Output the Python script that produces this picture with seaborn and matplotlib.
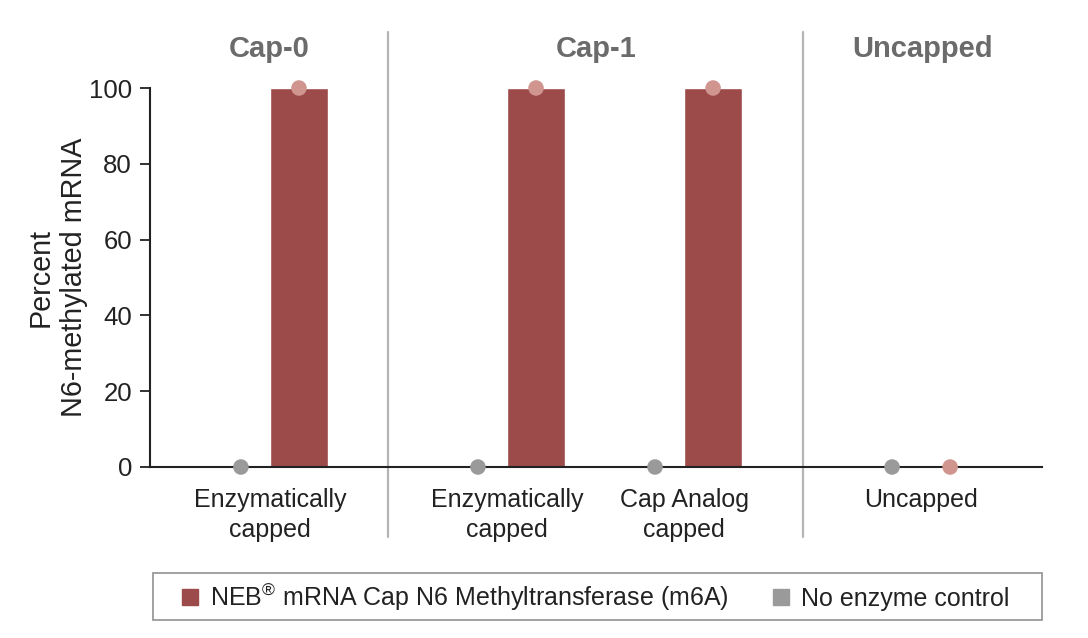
import matplotlib
matplotlib.use('Agg')
import matplotlib.pyplot as plt
from matplotlib.lines import Line2D
from matplotlib.patches import Rectangle
import pandas as pd
import seaborn as sns

# 数据
conditions = ['Enzymatically\ncapped', 'Enzymatically\ncapped', 'Cap Analog\ncapped', 'Uncapped']
groups = ['Cap-0', 'Cap-1', 'Uncapped']
enzyme = [100, 100, 100, 0]
control = [0, 0, 0, 0]
enzyme_name = 'NEB$^{®}$ mRNA Cap N6 Methyltransferase (m6A)'
control_name = 'No enzyme control'

# 布局（类别中心位置，组分隔线，组标题位置）
pos = [0.0, 1.0, 1.747, 2.747]
seps = [0.498, 2.249]
group_x = [-0.004, 1.374, 2.753]

red, pink, grey = '#9c4a4a', '#d0958f', '#9a9a9a'

sns.set_style('white')
plt.rcParams['font.family'] = ['Liberation Sans', 'DejaVu Sans']
plt.rcParams['mathtext.fontset'] = 'custom'
plt.rcParams['mathtext.rm'] = 'Liberation Sans'

df = pd.DataFrame({
    'pos': pos * 2,
    'treatment': ['control'] * 4 + ['enzyme'] * 4,
    'percent': control + enzyme,
})

fig = plt.figure(figsize=(10.88, 6.38), dpi=100)
ax = fig.add_axes([150 / 1088, 1 - 467 / 638, 892 / 1088, 379 / 638])

sns.barplot(data=df, x='pos', y='percent', hue='treatment', hue_order=['control', 'enzyme'],
            palette={'control': grey, 'enzyme': red}, native_scale=True, width=0.656,
            saturation=1, dodge=True, legend=False, ax=ax, zorder=2)

off = 0.1225
dots = pd.DataFrame({
    'x': [p - off for p in pos] + [p + off for p in pos],
    'percent': control + enzyme,
    'treatment': ['control'] * 4 + ['enzyme'] * 4,
})
sns.scatterplot(data=dots, x='x', y='percent', hue='treatment',
                palette={'control': grey, 'enzyme': pink}, s=125, linewidth=0,
                legend=False, ax=ax, clip_on=False, zorder=5)

ax.set_xlim(-0.506, 3.257)
ax.set_ylim(0, 100)
ax.set_yticks([0, 20, 40, 60, 80, 100])
ax.set_xticks(pos)
ax.set_xticklabels(conditions, fontsize=18, color='#222222', linespacing=1.35)
ax.tick_params(axis='x', length=0, pad=15)
ax.tick_params(axis='y', length=7, width=1.3, color='#222222', labelsize=18.5,
               labelcolor='#222222', pad=6, left=True, direction='out')
ax.set_xlabel('')
ax.set_ylabel('Percent\nN6-methylated mRNA', fontsize=20.7, color='#222222', linespacing=1.25)
ax.yaxis.set_label_coords(-0.069, 0.5)

sns.despine(ax=ax)
for s in ['left', 'bottom']:
    ax.spines[s].set_color('#222222')
    ax.spines[s].set_linewidth(1.5)
    ax.spines[s].set_zorder(3)

for x in seps:
    ax.axvline(x, ymin=-0.185, ymax=1.148, color='#b5b5b5', lw=1.6, clip_on=False, zorder=1)

for x, g in zip(group_x, groups):
    ax.text(x, 1.103, g, transform=ax.get_xaxis_transform(), ha='center', va='center',
            fontsize=21, fontweight='bold', color='#6b6b6b')

# 图例框
fig.patches.append(Rectangle((153 / 1088, 1 - 620 / 638), 889 / 1088, 47 / 638,
                             transform=fig.transFigure, fill=False,
                             edgecolor='#9a9a9a', lw=1.3))
handles = [Line2D([], [], marker='s', ls='', color=red, markersize=11.5),
           Line2D([], [], marker='s', ls='', color=grey, markersize=11.5)]
leg = fig.legend(handles, [enzyme_name, control_name], ncol=2,
                 bbox_to_anchor=(595.5 / 1088, 1 - 597 / 638),
                 loc='center', fontsize=18, frameon=False,
                 handlelength=0.7, handletextpad=0.45, columnspacing=1.75,
                 borderpad=0, borderaxespad=0)
for t in leg.get_texts():
    t.set_color('#222222')

fig.savefig('out.png', dpi=100)
